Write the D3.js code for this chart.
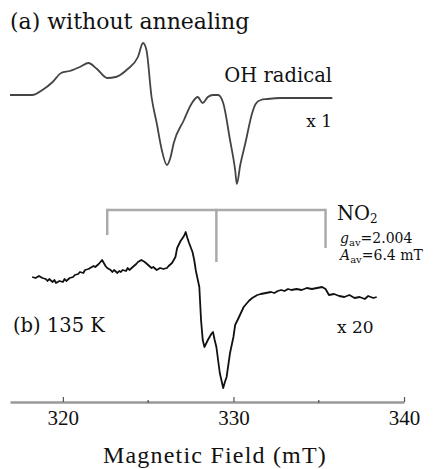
<!DOCTYPE html>
<html>
<head>
<meta charset="utf-8">
<script src="https://cdn.jsdelivr.net/npm/d3@7"></script>
<style>
  body { margin: 0; background: #fff; }
  svg { display: block; }
</style>
</head>
<body>
<svg id="chart" width="436" height="469"></svg>
<script>
// spectrum (a): without annealing, x 1
var topField = [316.9, 318.2, 318.8, 319.4, 319.9, 320.4, 321.0, 321.5, 322.0, 322.6, 323.1, 323.8, 324.4, 324.7, 324.9,
  325.2, 325.5, 325.8, 326.1, 326.3, 326.5, 327.1, 327.5, 327.8, 327.9, 328.2, 328.5, 328.8, 329.1, 329.4,
  329.8, 330.1, 330.2, 330.4, 330.7, 331.1, 331.3, 331.6, 332.0, 332.8, 333.9, 335.8];
var topSignal = [1, 1, 6, 14, 23, 25, 29, 33, 27, 18, 19, 27, 39, 53, 46,
  -1, -27, -54, -69, -62, -47, -24, -9, -2, -1, -7, -1, 1, 1, -7,
  -44, -74, -88, -69, -47, -17, -8, -4, -3, -2, -2, -2];

// spectrum (b): 135 K, x 20
var botField = [318.2, 318.4, 318.6, 318.8, 319.0, 319.1, 319.2, 319.4, 319.5, 319.6, 319.8, 320.0, 320.1, 320.2, 320.4,
  320.6, 320.7, 320.9, 321.0, 321.2, 321.3, 321.5, 321.6, 321.8, 321.9, 322.1, 322.2, 322.3, 322.5, 322.6,
  322.8, 322.9, 323.0, 323.2, 323.3, 323.4, 323.5, 323.7, 323.8, 323.9, 324.1, 324.3, 324.4, 324.6, 324.8,
  325.0, 325.2, 325.3, 325.5, 325.7, 325.9, 326.1, 326.2, 326.4, 326.6, 326.7, 326.9, 327.1, 327.2, 327.3,
  327.4, 327.6, 327.7, 327.8, 328.0, 328.1, 328.2, 328.3, 328.5, 328.7, 328.8, 328.9, 329.0, 329.2, 329.4,
  329.5, 329.6, 329.8, 330.0, 330.1, 330.3, 330.6, 330.9, 331.1, 331.4, 331.6, 331.9, 332.2, 332.4, 332.6,
  332.8, 333.0, 333.2, 333.4, 333.7, 334.0, 334.3, 334.6, 334.9, 335.2, 335.4, 335.6, 335.9, 336.2, 336.5,
  336.8, 337.1, 337.4, 337.7, 337.9, 338.2, 338.4];
var botSignal = [8, 7, 9, 7, 6, 4, 6, 3, 5, 2, 4, 3, 6, 4, 7,
  8, 10, 11, 13, 12, 15, 16, 17, 19, 18, 21, 23, 25, 19, 17,
  15, 13, 15, 12, 14, 13, 15, 14, 17, 15, 18, 21, 23, 25, 23,
  20, 17, 18, 15, 17, 16, 17, 19, 22, 28, 37, 44, 49, 53, 47,
  42, 33, 25, 14, -2, -35, -55, -62, -55, -49, -47, -55, -62, -88, -103,
  -97, -92, -68, -52, -40, -33, -22, -16, -13, -10, -9, -8, -7, -8, -6,
  -5, -6, -4, -5, -4, -5, -3, -4, -3, -2, -4, -10, -9, -11, -12,
  -10, -13, -12, -14, -11, -13, -12];

// NO2 stick pattern
var no2Center = 329.0;
var no2Split = 6.4;

var majorTicks = [320, 330, 340];
var minorTicks = [325, 335];

var svg = d3.select("#chart");

var x = d3.scaleLinear().domain([316.9, 340]).range([10, 404]);
var yTop = d3.scaleLinear().domain([-100, 60]).range([196, 36]);
var yBot = d3.scaleLinear().domain([-110, 60]).range([395, 225]);

var serif = "'DejaVu Serif', serif";
var times = "'Liberation Serif', 'Times New Roman', serif";

// spectra
var topLine = d3.line()
  .x(function(d, i) { return x(topField[i]); })
  .y(function(d) { return yTop(d); })
  .curve(d3.curveMonotoneX);

svg.append("path")
  .attr("d", topLine(topSignal))
  .attr("fill", "none")
  .attr("stroke", "#444")
  .attr("stroke-width", 1.8)
  .attr("stroke-linejoin", "round");

var botLine = d3.line()
  .x(function(d, i) { return x(botField[i]); })
  .y(function(d) { return yBot(d); });

svg.append("path")
  .attr("d", botLine(botSignal))
  .attr("fill", "none")
  .attr("stroke", "#111")
  .attr("stroke-width", 1.8)
  .attr("stroke-linejoin", "round");

// NO2 bracket
var bTop = 210;
var sticks = [
  {f: no2Center - no2Split, y2: 235},
  {f: no2Center, y2: 262},
  {f: no2Center + no2Split, y2: 248}
];
svg.append("line")
  .attr("x1", x(no2Center - no2Split)).attr("x2", x(no2Center + no2Split))
  .attr("y1", bTop).attr("y2", bTop)
  .attr("stroke", "#aaa").attr("stroke-width", 2.5);
svg.selectAll(".stick")
  .data(sticks)
  .enter().append("line")
  .attr("class", "stick")
  .attr("x1", function(d) { return x(d.f); })
  .attr("x2", function(d) { return x(d.f); })
  .attr("y1", bTop - 1.2)
  .attr("y2", function(d) { return d.y2; })
  .attr("stroke", "#aaa").attr("stroke-width", 2.5);

// axis
var axis = d3.axisBottom(x)
  .tickValues(majorTicks)
  .tickSize(-5)
  .tickSizeOuter(0)
  .tickPadding(8)
  .tickFormat(d3.format("d"));

var gAxis = svg.append("g")
  .attr("transform", "translate(0,402)")
  .call(axis);
gAxis.attr("font-family", times);
gAxis.select(".domain").attr("stroke", "#999").attr("stroke-width", 2.5);
gAxis.selectAll(".tick line").attr("stroke", "#555").attr("stroke-width", 1.2);
gAxis.selectAll(".tick text")
  .attr("font-family", times)
  .attr("font-size", 21)
  .attr("fill", "#111");

svg.selectAll(".minor")
  .data(minorTicks)
  .enter().append("line")
  .attr("class", "minor")
  .attr("x1", function(d) { return x(d); })
  .attr("x2", function(d) { return x(d); })
  .attr("y1", 400).attr("y2", 403)
  .attr("stroke", "#666").attr("stroke-width", 1.5);

svg.append("text")
  .attr("x", 215).attr("y", 463)
  .attr("text-anchor", "middle")
  .attr("font-family", times)
  .attr("font-size", 24)
  .attr("letter-spacing", 1.2)
  .attr("fill", "#111")
  .text("Magnetic Field (mT)");

// labels
function label(txt, xp, yp, size, anchor) {
  return svg.append("text")
    .attr("x", xp).attr("y", yp)
    .attr("text-anchor", anchor || "start")
    .attr("font-family", serif)
    .attr("font-size", size)
    .attr("fill", "#111")
    .text(txt);
}
label("(a) without annealing", 10, 29, 22);
label("OH radical", 332, 82, 19.5, "end");
label("x 1", 332, 127, 17, "end");
label("(b) 135 K", 13, 332, 19.5);
label("x 20", 337, 333, 17);

var no2 = label("NO", 337, 220, 19.5);
no2.append("tspan").attr("font-size", 12).attr("dy", 3).text("2");

var gav = svg.append("text")
  .attr("x", 340).attr("y", 243)
  .attr("font-family", serif).attr("font-size", 14).attr("fill", "#111");
gav.append("tspan").attr("font-style", "italic").text("g");
gav.append("tspan").attr("font-size", 10).attr("dy", 3).text("av");
gav.append("tspan").attr("dy", -3).text("=2.004");

var aav = svg.append("text")
  .attr("x", 340).attr("y", 260)
  .attr("font-family", serif).attr("font-size", 14).attr("fill", "#111");
aav.append("tspan").attr("font-style", "italic").text("A");
aav.append("tspan").attr("font-size", 10).attr("dy", 3).text("av");
aav.append("tspan").attr("dy", -3).text("=6.4 mT");
</script>
</body>
</html>
